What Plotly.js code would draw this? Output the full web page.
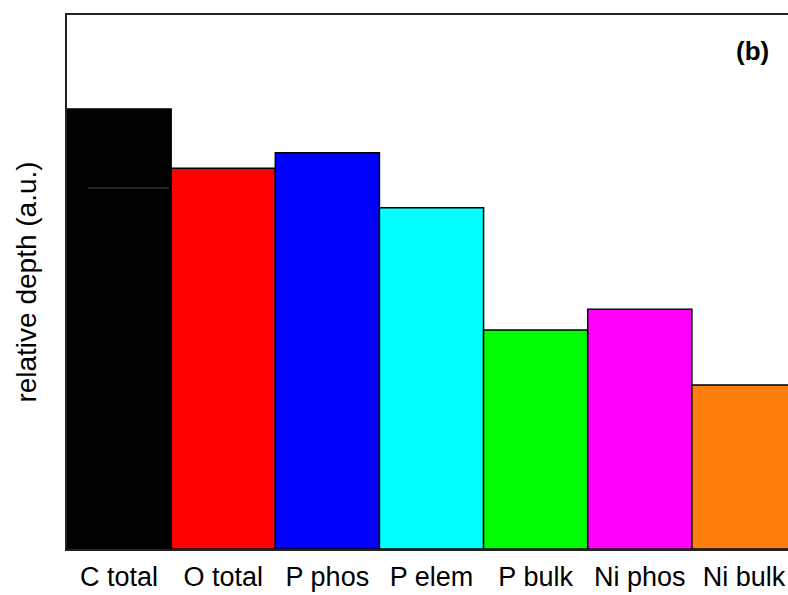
<!DOCTYPE html>
<html>
<head>
<meta charset="utf-8">
<script src="https://cdn.plot.ly/plotly-3.0.1.min.js"></script>
<style>
html,body{margin:0;padding:0;overflow:hidden;background:#fff;}
#chart{width:800px;height:595px;}
</style>
</head>
<body>
<div id="chart"></div>
<script>
const categories = ["C total", "O total", "P phos", "P elem", "P bulk", "Ni phos", "Ni bulk"];
const depths = [0.824, 0.713, 0.742, 0.639, 0.410, 0.449, 0.307];
const barColors = ["#000000", "#ff0000", "#0000ff", "#00ffff", "#00ff00", "#ff00ff", "#ff7f0e"];
const cTotalInnerLevel = 0.676;
const panelLabel = "(b)";

const trace = {
  type: "bar",
  x: categories,
  y: depths,
  marker: {color: barColors, line: {color: "#000000", width: 1.5}},
  hoverinfo: "skip"
};

const layout = {
  width: 800,
  height: 595,
  margin: {l: 67, r: 4, t: 15, b: 46},
  paper_bgcolor: "#ffffff",
  plot_bgcolor: "#ffffff",
  bargap: 0,
  showlegend: false,
  font: {family: "Liberation Sans, Arial, sans-serif", color: "#000000"},
  xaxis: {
    showline: true, linecolor: "#222222", linewidth: 2, mirror: true,
    ticks: "", showgrid: false, zeroline: false,
    tickfont: {size: 27, family: "Liberation Sans, Arial, sans-serif"},
    ticklabelstandoff: 3
  },
  yaxis: {
    range: [0, 1],
    showline: true, linecolor: "#222222", linewidth: 2, mirror: true,
    ticks: "", showticklabels: false, showgrid: false, zeroline: false,
    title: {text: "relative depth (a.u.)", font: {size: 28, family: "Liberation Sans, Arial, sans-serif"}, standoff: 20}
  },
  shapes: [{
    type: "line", xref: "x", yref: "y",
    x0: -0.3, x1: 0.48, y0: cTotalInnerLevel, y1: cTotalInnerLevel,
    line: {color: "#444444", width: 1}
  }],
  annotations: [{
    text: "<b>" + panelLabel + "</b>",
    xref: "paper", yref: "paper", x: 0.94, y: 0.933,
    xanchor: "center", yanchor: "middle", showarrow: false,
    font: {size: 26, family: "Liberation Sans, Arial, sans-serif", color: "#000000"}
  }]
};

Plotly.newPlot("chart", [trace], layout, {displayModeBar: false, staticPlot: true});
</script>
</body>
</html>
